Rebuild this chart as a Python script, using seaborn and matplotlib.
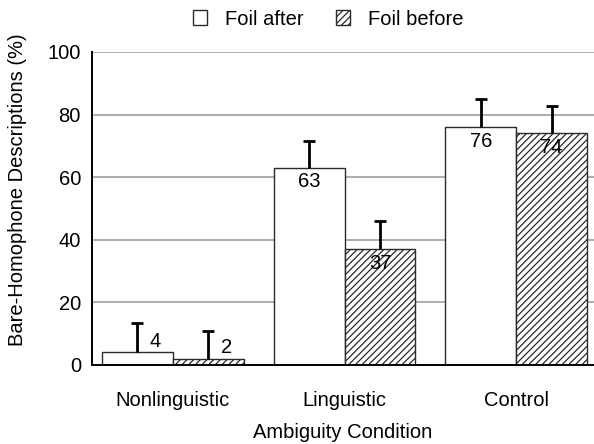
import matplotlib
matplotlib.use("Agg")
import matplotlib.pyplot as plt
import seaborn as sns
import pandas as pd

# data
conditions = ["Nonlinguistic", "Linguistic", "Control"]
foil_after = [4, 63, 76]
foil_before = [2, 37, 74]
err_after = [9.3, 8.6, 9.0]
err_before = [8.9, 9.0, 8.7]
series = ["Foil after", "Foil before"]

df = pd.DataFrame({
    "cond": conditions * 2,
    "val": foil_after + foil_before,
    "foil": [series[0]] * 3 + [series[1]] * 3,
})

sns.set_theme(style="white")
plt.rcParams["font.family"] = ["Liberation Sans", "DejaVu Sans"]
plt.rcParams["hatch.linewidth"] = 0.9
plt.rcParams["hatch.color"] = "#222222"
for k in ["text.color", "axes.labelcolor", "xtick.color", "ytick.color"]:
    plt.rcParams[k] = "black"

FS = 14.5

fig = plt.figure(figsize=(5.94, 4.44), dpi=100)
ax = fig.add_axes([0.1549, 0.178, 0.8451, 0.705])

sns.barplot(data=df, x="cond", y="val", hue="foil", order=conditions,
            hue_order=series, palette=["white", "white"], width=0.826,
            edgecolor="#2a2a2a", linewidth=1.0, gap=0, ax=ax, legend=True)

for p in ax.containers[1]:
    p.set_hatch("/////")

# one-sided error bars + value labels
for cont, errs, vals in zip(ax.containers, [err_after, err_before], [foil_after, foil_before]):
    for p, e, v in zip(cont, errs, vals):
        cx = p.get_x() + p.get_width() / 2
        eb = ax.errorbar(cx, v, yerr=[[0], [e]], fmt="none", ecolor="black",
                         elinewidth=2, capsize=4, capthick=2, zorder=3)
        for cl in eb[1]:
            if cl.get_ydata()[0] <= v + 1e-9:
                cl.set_visible(False)
        if v < 10:
            ax.annotate(str(v), (cx, v + 3.5), xytext=(9, 0), textcoords="offset points",
                        ha="left", va="center", fontsize=FS, zorder=4)
        else:
            ax.text(cx, v - 1.5, str(v), ha="center", va="top", fontsize=FS, zorder=4)

ax.set_ylim(0, 100)
ax.set_xlim(-0.471, 2.453)
ax.set_yticks([0, 20, 40, 60, 80, 100])
ax.yaxis.grid(True, color="#a0a0a0", linewidth=1.2)
ax.set_axisbelow(True)
for s in ["top", "right"]:
    ax.spines[s].set_visible(False)
for s in ["left", "bottom"]:
    ax.spines[s].set_color("black")
    ax.spines[s].set_linewidth(1.4)
ax.tick_params(axis="both", labelsize=FS, length=0)
ax.tick_params(axis="x", pad=19)
ax.tick_params(axis="y", pad=8)
ax.set_xlabel("Ambiguity Condition", fontsize=FS, labelpad=9)
ax.set_ylabel("Bare-Homophone Descriptions (%)", fontsize=FS)
ax.yaxis.set_label_coords(-0.13, 0.56)

handles, labels = ax.get_legend_handles_labels()
handles[1].set_hatch("/////")
ax.legend(handles, labels, loc="center", bbox_to_anchor=(0.47, 1.105), ncol=2,
          frameon=False, fontsize=FS, handlelength=0.7, handleheight=0.7,
          handletextpad=0.9, columnspacing=1.6)

plt.savefig("out.png", dpi=100)
